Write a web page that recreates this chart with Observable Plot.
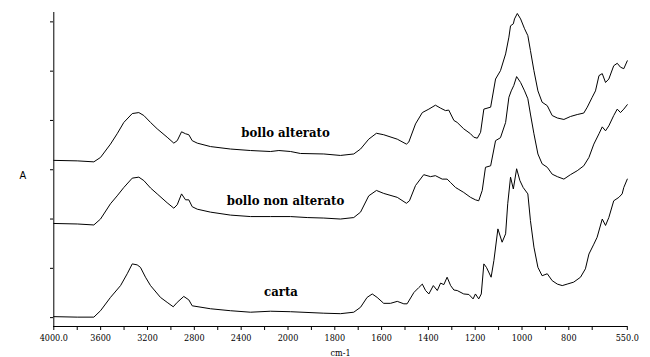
<!DOCTYPE html>
<html><head><meta charset="utf-8">
<script src="https://cdn.jsdelivr.net/npm/d3@7"></script>
<script src="https://cdn.jsdelivr.net/npm/@observablehq/plot@0.6"></script>
<style>body{margin:0;background:#fff}</style>
</head><body><div id="chart"></div>
<script>
// Wavenumbers (cm-1) and absorbance for each spectrum
const wnAlterato = [4000,3800,3658,3601,3516,3459,3402,3330,3274,3231,3174,3117,3032,2975,2946,2909,2875,2847,2818,2775,2662,2491,2320,2149,2078,1989,1947,1847,1776,1719,1690,1655,1622,1591,1533,1494,1484,1455,1426,1398,1370,1348,1327,1313,1291,1277,1249,1220,1206,1191,1177,1163,1134,1113,1092,1070,1056,1049,1037,1032,1020,1006,989,975,964,949,932,914,892,871,849,821,793,764,736,721,700,686,671,657,643,629,608,593,579,565,550];
const aAlterato = [0.319,0.318,0.316,0.325,0.352,0.373,0.396,0.414,0.416,0.410,0.396,0.383,0.366,0.354,0.359,0.377,0.373,0.371,0.359,0.354,0.347,0.342,0.339,0.337,0.339,0.337,0.333,0.332,0.329,0.332,0.342,0.362,0.374,0.371,0.362,0.352,0.356,0.393,0.416,0.423,0.431,0.425,0.420,0.421,0.400,0.396,0.383,0.373,0.366,0.364,0.376,0.423,0.427,0.484,0.501,0.535,0.569,0.592,0.596,0.606,0.617,0.606,0.586,0.572,0.542,0.501,0.460,0.437,0.430,0.410,0.405,0.402,0.408,0.412,0.415,0.427,0.447,0.460,0.491,0.495,0.477,0.484,0.511,0.516,0.508,0.505,0.521];

const wnNonAlterato = [4000,3800,3658,3601,3516,3459,3402,3330,3274,3231,3174,3117,3032,2975,2946,2909,2875,2847,2818,2775,2662,2491,2320,2149,1989,1918,1847,1776,1719,1690,1655,1622,1591,1533,1494,1481,1455,1420,1391,1370,1341,1320,1305,1284,1270,1249,1220,1199,1185,1170,1156,1134,1113,1092,1070,1056,1046,1035,1023,1006,989,975,964,949,932,914,892,871,849,821,793,764,736,714,693,671,657,643,629,608,593,579,565,550];
const aNonAlterato = [0.191,0.190,0.188,0.200,0.231,0.247,0.264,0.283,0.285,0.278,0.263,0.251,0.233,0.222,0.229,0.251,0.239,0.239,0.225,0.220,0.214,0.208,0.205,0.205,0.205,0.203,0.202,0.200,0.203,0.214,0.247,0.258,0.252,0.244,0.232,0.237,0.268,0.290,0.286,0.288,0.281,0.281,0.274,0.264,0.260,0.254,0.244,0.239,0.237,0.258,0.305,0.308,0.359,0.365,0.396,0.447,0.460,0.471,0.489,0.477,0.460,0.444,0.413,0.373,0.332,0.312,0.305,0.291,0.286,0.281,0.290,0.298,0.308,0.325,0.352,0.373,0.387,0.379,0.389,0.410,0.423,0.416,0.423,0.432];

const wnCarta = [4000,3800,3658,3601,3516,3430,3373,3330,3288,3260,3217,3174,3089,3032,2980,2946,2890,2847,2818,2662,2491,2320,2149,1989,1847,1776,1719,1690,1662,1640,1619,1591,1562,1533,1505,1491,1462,1441,1426,1412,1398,1379,1362,1348,1334,1320,1305,1291,1277,1249,1227,1209,1199,1185,1174,1163,1152,1132,1120,1103,1085,1070,1061,1049,1037,1023,1009,995,975,964,949,932,914,892,871,849,828,807,779,750,729,714,693,679,657,643,629,608,586,572,565,550];
const aCarta = [0.002,0.001,0.001,0.014,0.041,0.065,0.089,0.109,0.107,0.102,0.082,0.065,0.041,0.031,0.022,0.031,0.043,0.036,0.024,0.018,0.014,0.011,0.013,0.012,0.009,0.008,0.011,0.021,0.041,0.048,0.041,0.029,0.029,0.033,0.028,0.028,0.051,0.061,0.068,0.055,0.048,0.065,0.055,0.070,0.067,0.082,0.065,0.056,0.055,0.048,0.047,0.038,0.048,0.038,0.048,0.109,0.102,0.082,0.116,0.180,0.153,0.170,0.231,0.285,0.261,0.302,0.278,0.264,0.251,0.197,0.143,0.102,0.085,0.089,0.075,0.068,0.065,0.068,0.072,0.082,0.099,0.129,0.149,0.163,0.200,0.187,0.203,0.237,0.244,0.251,0.264,0.281];

// Curve labels (name, wavenumber, absorbance at label centre)
const labelNames = ["bollo alterato", "bollo non alterato", "carta"];
const labelWn = [2021, 2021, 2060];
const labelA = [0.374, 0.236, 0.053];

// Axes
const xDomain = [4000, 2000, 550];
const yDomain = [-0.018, 0.619];
const xTicks = [4000,3800,3600,3400,3200,3000,2800,2600,2400,2200,2000,1900,1800,1700,1600,1500,1400,1300,1200,1100,1000,900,800,700,550];
const xTickLabels = new Map([[4000,"4000.0"],[3600,"3600"],[3200,"3200"],[2800,"2800"],[2400,"2400"],[2000,"2000"],[1800,"1800"],[1600,"1600"],[1400,"1400"],[1200,"1200"],[1000,"1000"],[800,"800"],[550,"550.0"]]);
const yTicks = [0, 0.1, 0.2, 0.3, 0.4, 0.5, 0.6];

const SERIF = "DejaVu Serif Condensed, DejaVu Serif, serif";

const rows = [];
[["bollo alterato", wnAlterato, aAlterato], ["bollo non alterato", wnNonAlterato, aNonAlterato], ["carta", wnCarta, aCarta]]
  .forEach(([s, w, a]) => w.forEach((v, i) => rows.push({series: s, wn: v, a: a[i]})));

const chart = Plot.plot({
  width: 650, height: 357,
  marginLeft: 53, marginRight: 23, marginTop: 12, marginBottom: 31,
  style: {fontFamily: SERIF, fontSize: "9px", background: "#fff", color: "#000"},
  x: {type: "linear", domain: xDomain, range: [53.3, 287.5, 626.8]},
  y: {domain: yDomain},
  marks: [
    Plot.ruleX([xDomain[0]], {stroke: "#000"}),
    Plot.ruleY([yDomain[0]], {stroke: "#000"}),
    Plot.axisX({ticks: xTicks, tickFormat: d => xTickLabels.get(d) ?? "", tickSize: 4, tickPadding: 4, label: "cm-1", labelAnchor: "center", labelOffset: 29, labelArrow: "none"}),
    Plot.axisY({ticks: yTicks, tickFormat: () => "", tickSize: 3, label: null}),
    Plot.line(rows, {x: "wn", y: "a", z: "series", stroke: "#000", strokeWidth: 1}),
    Plot.text(labelNames, {x: (d, i) => labelWn[i], y: (d, i) => labelA[i], text: d => d, fontWeight: "bold", fontSize: 13, fontFamily: SERIF, fill: "#000"}),
    Plot.text(["A"], {frameAnchor: "left", text: d => d, dx: -34, dy: 6, fontFamily: "Liberation Sans, Arial, sans-serif", fontSize: 10, fill: "#000"})
  ]
});
document.getElementById("chart").appendChild(chart);
</script>
</body></html>
